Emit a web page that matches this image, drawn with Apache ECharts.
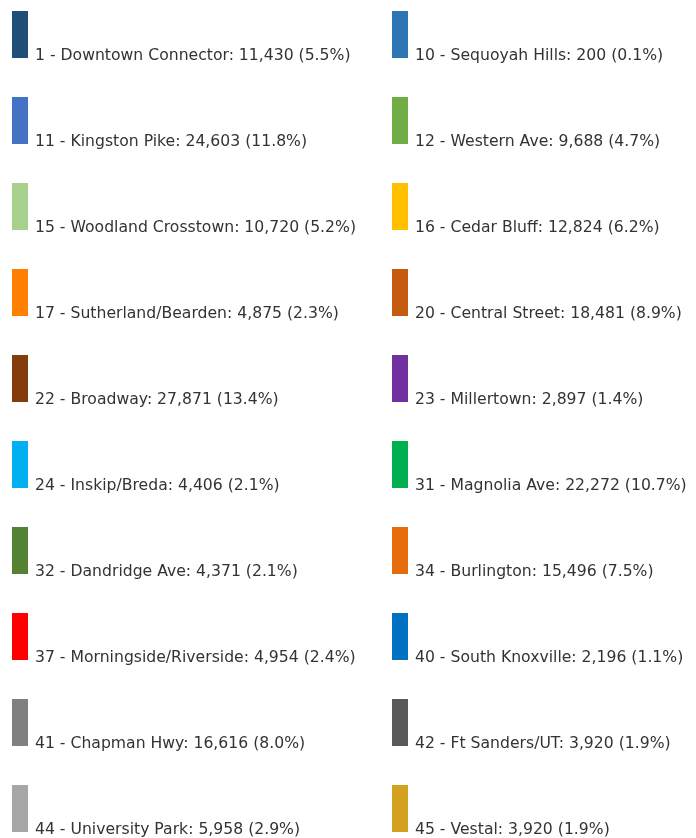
<!DOCTYPE html>
<html>
<head>
<meta charset="utf-8">
<script src="https://cdn.jsdelivr.net/npm/echarts@6/dist/echarts.min.js"></script>
<style>html,body{margin:0;padding:0;background:#fff}#c{width:696px;height:838px}</style>
</head>
<body>
<div id="c"></div>
<script>
const routes = ["1 - Downtown Connector","10 - Sequoyah Hills","11 - Kingston Pike","12 - Western Ave","15 - Woodland Crosstown","16 - Cedar Bluff","17 - Sutherland/Bearden","20 - Central Street","22 - Broadway","23 - Millertown","24 - Inskip/Breda","31 - Magnolia Ave","32 - Dandridge Ave","34 - Burlington","37 - Morningside/Riverside","40 - South Knoxville","41 - Chapman Hwy","42 - Ft Sanders/UT","44 - University Park","45 - Vestal"];
const riders = [11430,200,24603,9688,10720,12824,4875,18481,27871,2897,4406,22272,4371,15496,4954,2196,16616,3920,5958,3920];
const colors = ["#1f4e79","#2e75b6","#4472c4","#70ad47","#a9d18e","#ffc000","#ff7f00","#c55a11","#843c0c","#7030a0","#00b0f0","#00b050","#548235","#e46c0a","#ff0000","#0070c0","#808080","#595959","#a6a6a6","#d4a020"];

const total = riders.reduce((a,b)=>a+b,0);
const lookup = {};
routes.forEach((r,i)=>{ lookup[r] = riders[i]; });
const fmt = name => '{t|' + name + ': ' + lookup[name].toLocaleString('en-US') + ' (' + (lookup[name]/total*100).toFixed(1) + '%)}';
const leftNames = routes.filter((_,i)=>i%2===0);
const rightNames = routes.filter((_,i)=>i%2===1);

const legendBase = {
  orient: 'vertical',
  top: 11,
  height: 1000,
  padding: 0,
  icon: 'rect',
  itemWidth: 16,
  itemHeight: 47,
  itemGap: 33,
  selectedMode: false,
  formatter: fmt,
  textStyle: {
    fontFamily: 'DejaVu Sans', fontSize: 15.65, color: '#333',
    rich: {t: {fontFamily: 'DejaVu Sans', fontSize: 15.65, color: '#333', padding: [43, 0, 0, 2]}}
  }
};

const chart = echarts.init(document.getElementById('c'));
chart.setOption({
  animation: false,
  color: colors,
  legend: [
    Object.assign({}, legendBase, {left: 12, data: leftNames}),
    Object.assign({}, legendBase, {left: 392, data: rightNames})
  ],
  series: [{
    type: 'pie',
    radius: [0, 0],
    center: [-500, -500],
    silent: true,
    label: {show: false},
    labelLine: {show: false},
    data: routes.map((r,i)=>({name: r, value: riders[i]}))
  }]
});
</script>
</body>
</html>
